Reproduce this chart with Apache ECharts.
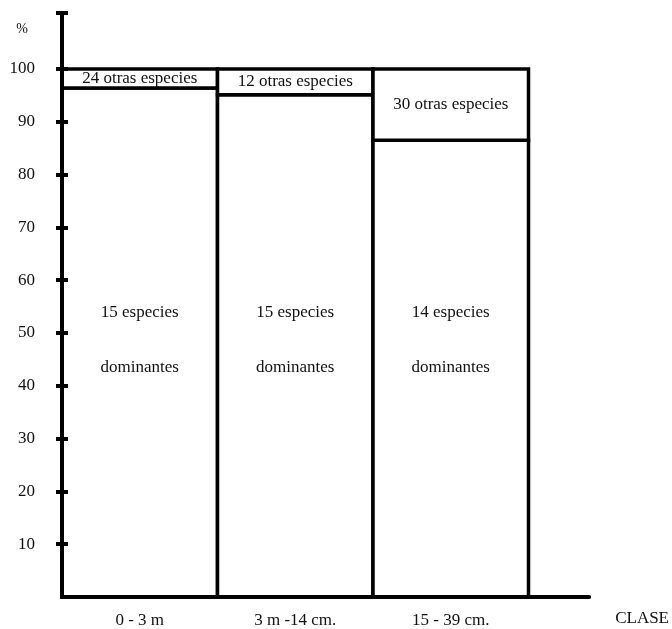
<!DOCTYPE html>
<html>
<head>
<meta charset="utf-8">
<style>
  html, body { margin: 0; padding: 0; background: #fff; }
  #chart { width: 672px; height: 629px; }
</style>
<script src="https://cdn.jsdelivr.net/npm/echarts@6/dist/echarts.min.js"></script>
</head>
<body>
<div id="chart"></div>
<script>
// ---- data ----
const categories = ['0 - 3 m', '3 m -14 cm.', '15 - 39 cm.'];
const dominantShare = [96.4, 95.1, 86.5];          // % of dominant species
const totalShare = [100, 100, 100];
const dominantLabels = ['15 especies', '15 especies', '14 especies'];
const dominantSubLabel = 'dominantes';
const otherLabels = ['24 otras especies', '12 otras especies', '30 otras especies'];
const yTickValues = [10, 20, 30, 40, 50, 60, 70, 80, 90, 100];
const yAxisTop = 110.6;
const xAxisEnd = 3.39;
const xAxisName = 'CLASE';
const yAxisName = '%';

// ---- layout constants ----
const FONT = 'Liberation Serif';
const DOMINANT_LABEL_AT = 48.7;   // y value where the two-line dominant label is centered
const LINE_GAP = 55.5;

const chart = echarts.init(document.getElementById('chart'), null, { renderer: 'canvas' });

const seriesData = categories.map((c, i) => [i, dominantShare[i], totalShare[i]]);

const commonY = {
  type: 'value',
  position: 'left',
  offset: 0,
  min: 0,
  max: yAxisTop,
  z: 10,
  splitLine: { show: false },
  axisLine: { show: true, onZero: false, lineStyle: { color: '#000', width: 4 } },
};

const option = {
  animation: false,
  backgroundColor: '#fff',
  grid: { left: 62, right: 78, top: 13, bottom: 31.5, containLabel: false },
  xAxis: {
    type: 'value',
    min: 0,
    max: xAxisEnd,
    z: 10,
    splitLine: { show: false },
    axisLine: { show: true, lineStyle: { color: '#000', width: 4 } },
    axisTick: { show: false },
    axisLabel: {
      customValues: categories.map((c, i) => i + 0.5),
      formatter: v => categories[Math.floor(v)] || '',
      margin: 15,
      color: '#111',
      fontFamily: FONT,
      fontSize: 17
    },
    name: xAxisName,
    nameLocation: 'end',
    nameGap: 26,
    nameTextStyle: {
      color: '#111', fontFamily: FONT, fontSize: 17,
      align: 'left', verticalAlign: 'top', padding: [13, 0, 0, 0]
    }
  },
  yAxis: [
    Object.assign({}, commonY, {
      axisTick: { show: true, inside: false, length: 6, customValues: yTickValues.concat([yAxisTop]), lineStyle: { color: '#000', width: 4 } },
      axisLabel: { customValues: yTickValues, margin: 27, color: '#111', fontFamily: FONT, fontSize: 17 },
      name: yAxisName,
      nameLocation: 'end',
      nameGap: -16,
      nameTextStyle: {
        color: '#111', fontFamily: FONT, fontSize: 14,
        align: 'right', verticalAlign: 'middle', padding: [0, 34, 0, 0]
      }
    }),
    Object.assign({}, commonY, {
      axisTick: { show: true, inside: true, length: 6, customValues: yTickValues.concat([yAxisTop]), lineStyle: { color: '#000', width: 4 } },
      axisLabel: { show: false }
    })
  ],
  series: [{
    type: 'custom',
    xAxisIndex: 0,
    yAxisIndex: 0,
    z: 2,
    data: seriesData,
    encode: { x: 0, y: [1, 2] },
    renderItem: function (params, api) {
      const i = api.value(0);
      const d = api.value(1);
      const t = api.value(2);
      const p0 = api.coord([i, 0]);
      const pd = api.coord([i + 1, d]);
      const pt = api.coord([i + 1, t]);
      const lab = api.coord([i + 0.5, DOMINANT_LABEL_AT]);
      const stroke = { fill: '#fff', stroke: '#000', lineWidth: 3.5 };
      const txt = (x, y, s) => ({
        type: 'text', x: x, y: y,
        style: { text: s, fill: '#111', font: '17px "' + FONT + '"', align: 'center', verticalAlign: 'middle' }
      });
      const cx = (p0[0] + pd[0]) / 2;
      return {
        type: 'group',
        children: [
          { type: 'rect', shape: { x: p0[0], y: pd[1], width: pd[0] - p0[0], height: p0[1] - pd[1] }, style: stroke },
          { type: 'rect', shape: { x: p0[0], y: pt[1], width: pt[0] - p0[0], height: pd[1] - pt[1] }, style: stroke },
          txt(cx, (pd[1] + pt[1]) / 2, otherLabels[i]),
          txt(cx, lab[1] - LINE_GAP / 2, dominantLabels[i]),
          txt(cx, lab[1] + LINE_GAP / 2, dominantSubLabel)
        ]
      };
    }
  }]
};

chart.setOption(option);
</script>
</body>
</html>
